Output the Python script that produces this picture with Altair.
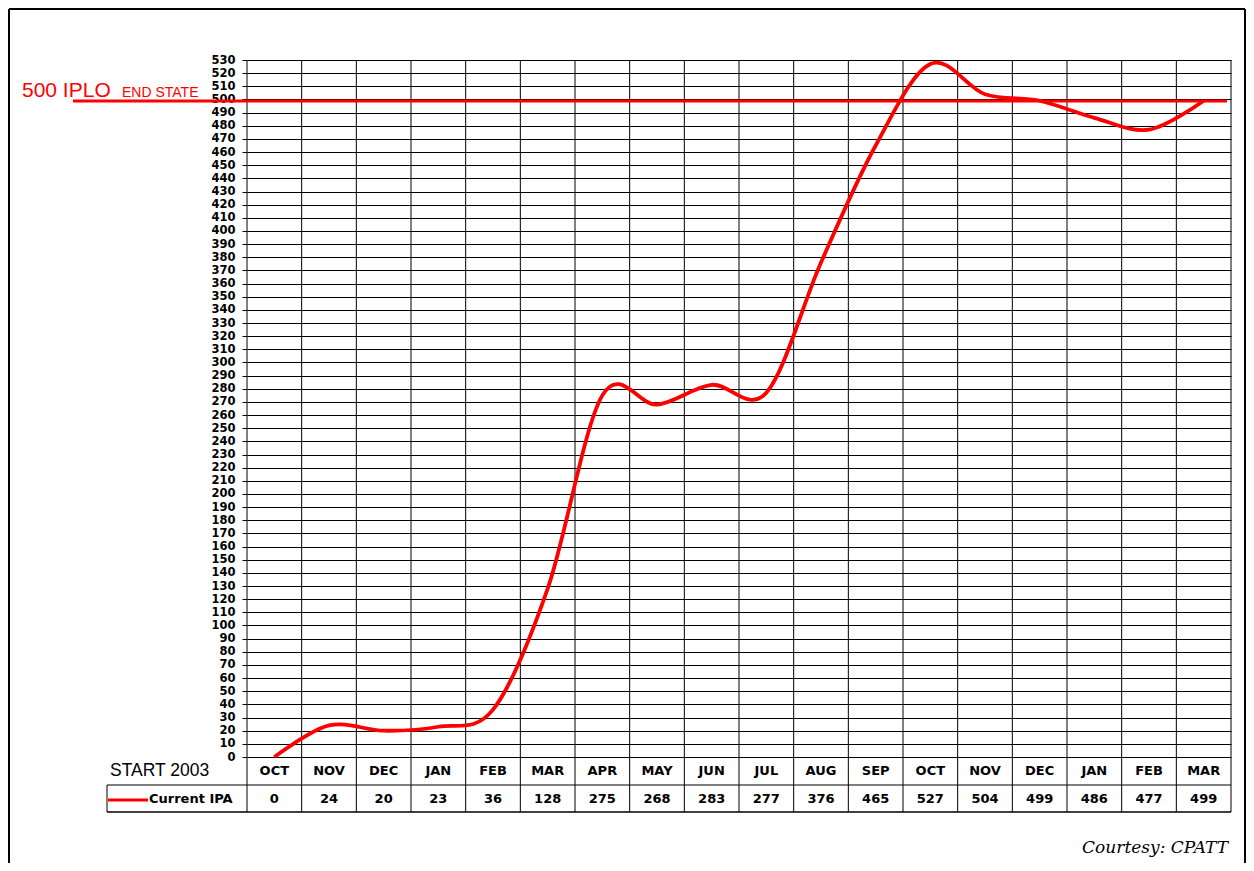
import altair as alt
import pandas as pd

# ---- data ----
months = ["OCT", "NOV", "DEC", "JAN", "FEB", "MAR", "APR", "MAY", "JUN",
          "JUL", "AUG", "SEP", "OCT", "NOV", "DEC", "JAN", "FEB", "MAR"]
ipa = [0, 24, 20, 23, 36, 128, 275, 268, 283, 277, 376, 465, 527, 504, 499, 486, 477, 499]
y_ticks = list(range(0, 531, 10))
target = 500
start_label = "START 2003"
series_name = "Current IPA"
target_label = "500 IPLO"
target_sub = "END STATE"
credit = "Courtesy: CPATT"

W, H = 984, 697
n = len(months)
df = pd.DataFrame({"pos": [i + 0.5 for i in range(n)], "month": months, "ipa": ipa})
bounds = pd.DataFrame({"b": list(range(n + 1))})

xs = alt.Scale(domain=[0, n], nice=False, zero=False)
ys = alt.Scale(domain=[0, 530], nice=False)
BOLD = "DejaVu Sans"

y_axis = alt.Axis(
    values=y_ticks, title=None, grid=True, gridColor="black", gridOpacity=1,
    gridWidth=1, domain=False, tickColor="black", tickSize=5,
    labelFont=BOLD, labelFontSize=11.5, labelFontWeight="bold", labelColor="black",
    labelPadding=7, labelOverlap=False, labelFlush=False)

one = pd.DataFrame({"k": [0]})

# vertical column lines through plot and table
grid_v = alt.Chart(bounds).mark_rule(color="black", strokeWidth=1).encode(
    x=alt.X("b:Q", scale=xs, axis=None), y=alt.value(0), y2=alt.value(752))

# table horizontal lines
tbl_h1 = alt.Chart(one).mark_rule(color="black", strokeWidth=1).encode(
    x=alt.value(-140), x2=alt.value(W), y=alt.value(725))
tbl_h2 = alt.Chart(one).mark_rule(color="black", strokeWidth=1.5).encode(
    x=alt.value(-140), x2=alt.value(W), y=alt.value(752))
tbl_v = alt.Chart(one).mark_rule(color="black", strokeWidth=1).encode(
    x=alt.value(-140), y=alt.value(725), y2=alt.value(752))

# outer frame
frame_top = alt.Chart(one).mark_rule(color="black", strokeWidth=2).encode(
    x=alt.value(-238), x2=alt.value(998), y=alt.value(-51))
frame_left = alt.Chart(one).mark_rule(color="black", strokeWidth=2).encode(
    x=alt.value(-238), y=alt.value(-51), y2=alt.value(H + 110))
frame_right = alt.Chart(one).mark_rule(color="black", strokeWidth=2).encode(
    x=alt.value(998), y=alt.value(-51), y2=alt.value(H + 110))

# data line (carries the y axis)
line = alt.Chart(df).mark_line(color="#ff0000", strokeWidth=3.8, interpolate="cardinal").encode(
    x=alt.X("pos:Q", scale=xs, axis=None),
    y=alt.Y("ipa:Q", scale=ys, axis=y_axis))

# target line
tgt = alt.Chart(pd.DataFrame({"t": [target]})).mark_rule(
    color="#ff0000", strokeWidth=3, yOffset=1.5).encode(
    y=alt.Y("t:Q", scale=ys, axis=y_axis), x=alt.value(-174), x2=alt.value(980))

tgt_txt = alt.Chart(one).mark_text(
    text=target_label, font="Liberation Sans", fontSize=21, color="#ff0000",
    align="left", baseline="alphabetic").encode(x=alt.value(-225), y=alt.value(37))
tgt_sub = alt.Chart(one).mark_text(
    text=target_sub, font="Liberation Sans", fontSize=14, color="#ff0000",
    align="left", baseline="alphabetic").encode(x=alt.value(-125), y=alt.value(37))

# table texts
month_txt = alt.Chart(df).mark_text(
    font=BOLD, fontSize=13, fontWeight="bold", color="black", baseline="middle").encode(
    x=alt.X("pos:Q", scale=xs, axis=None), y=alt.value(711), text="month:N")
val_txt = alt.Chart(df).mark_text(
    font=BOLD, fontSize=13, fontWeight="bold", color="black", baseline="middle").encode(
    x=alt.X("pos:Q", scale=xs, axis=None), y=alt.value(739), text="ipa:Q")

start_txt = alt.Chart(one).mark_text(
    text=start_label, font="Liberation Sans", fontSize=17.5, color="black",
    align="left", baseline="middle").encode(x=alt.value(-137), y=alt.value(711))

leg_line = alt.Chart(one).mark_rule(color="#ff0000", strokeWidth=3).encode(
    x=alt.value(-139), x2=alt.value(-99), y=alt.value(740))
leg_txt = alt.Chart(one).mark_text(
    text=series_name, font=BOLD, fontSize=13, fontWeight="bold", color="black",
    align="left", baseline="middle").encode(x=alt.value(-98), y=alt.value(739))

credit_txt = alt.Chart(one).mark_text(
    text=credit, font="DejaVu Serif", fontSize=17, fontStyle="italic", color="black",
    align="right", baseline="alphabetic").encode(x=alt.value(981), y=alt.value(793))

chart = alt.layer(
    grid_v, tbl_h1, tbl_h2, tbl_v, frame_top, frame_left, frame_right,
    line, tgt, tgt_txt, tgt_sub, month_txt, val_txt, start_txt, leg_line, leg_txt,
    credit_txt
).properties(
    width=W, height=H,
    padding={"left": 239, "top": 52, "right": 15, "bottom": 106},
    autosize=alt.AutoSizeParams(type="none"),
    background="white",
).configure_view(stroke=None)

chart.save("out.html", embed_options={"renderer": "svg", "actions": False})
